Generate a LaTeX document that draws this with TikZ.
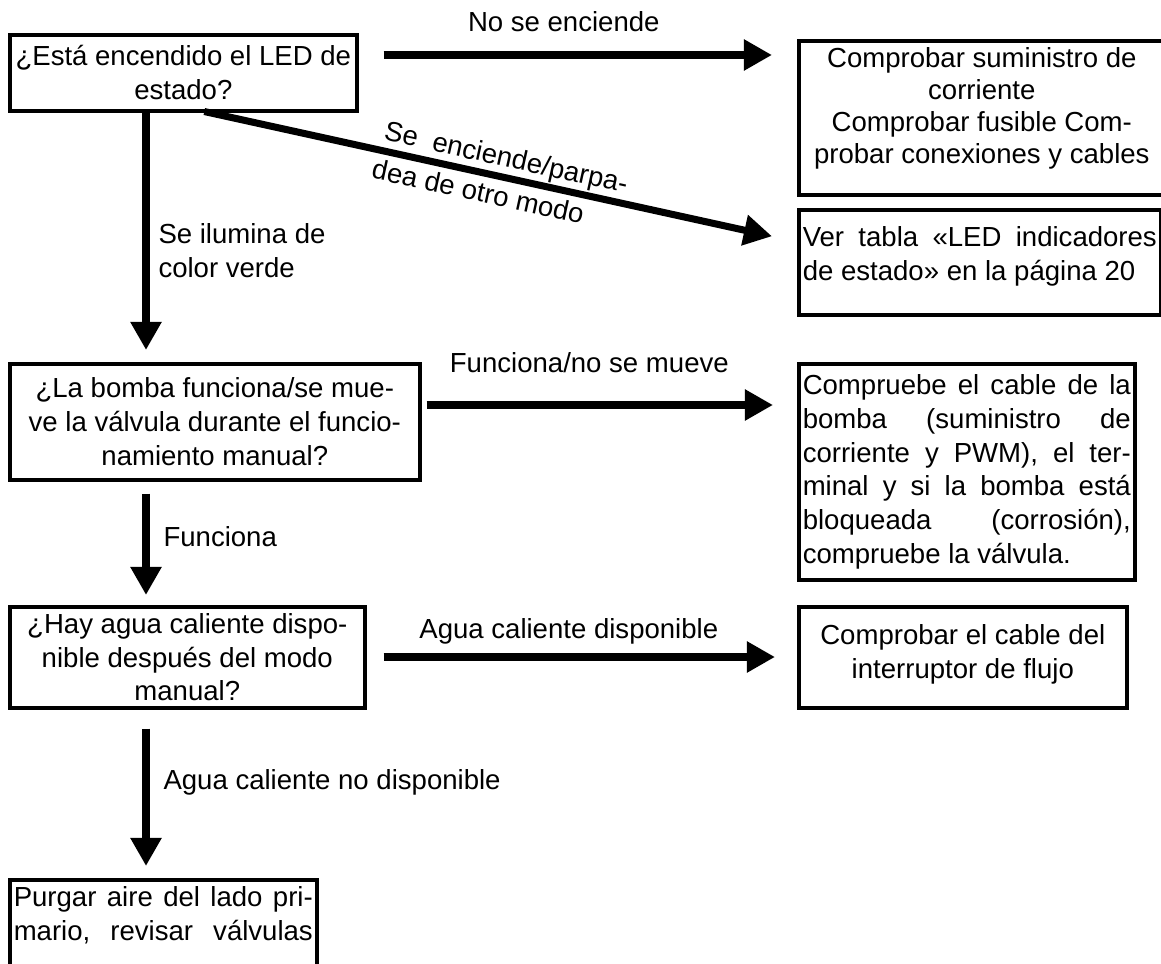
\documentclass[tikz,border=0pt]{standalone}
\usepackage{fontspec}
\setmainfont{Liberation Sans}
\usetikzlibrary{arrows.meta}
\tolerance=10000
\hbadness=10000

\tikzset{
  box/.style={draw, line width=2.5pt, anchor=north west, inner xsep=0.1cm, inner ysep=0.1cm,
    font=\fontsize{19.6pt}{24pt}\selectfont},
  flow/.style={line width=5pt, -{Triangle[length=20pt,width=21pt]}},
  lbl/.style={inner sep=0pt, font=\fontsize{19.6pt}{24pt}\selectfont}
}

\begin{document}
\begin{tikzpicture}[x=0.025cm,y=-0.025cm]
        \useasboundingbox (0,0) rectangle (1161,964);
        \clip (0,0) rectangle (1161,964);
        % questions on the left
        \node[box, align=flush center, text width=8.475cm, minimum height=1.9cm] (q1) at (8,33) {¿Está encendido el LED de\\estado?};
        \node[box, align=flush center, text width=10.05cm, minimum height=2.9cm] (q2) at (8,362) {¿La bomba funciona/se mue-\\ve la válvula durante el funcio-\\namiento manual?};
        \node[box, align=flush center, text width=8.675cm, minimum height=2.525cm] (q3) at (8,605) {¿Hay agua caliente dispo-\\nible después del modo\\manual?};
        \node[box, align=justify, text width=7.475cm, minimum height=2.75cm] (q4) at (8,878) {Purgar aire del lado pri-\linebreak mario,\hfill revisar\hfill válvulas\rule[-30pt]{0pt}{30pt}};
        % remedies on the right
        \node[box, align=flush center, text width=8.95cm, minimum height=3.85cm, font=\fontsize{19.6pt}{22.8pt}\selectfont] (r1) at (797,39) {Comprobar suministro de\\corriente\\Comprobar fusible Com-\\probar conexiones y cables\rule[-17pt]{0pt}{17pt}};
        \node[box, align=justify, text width=8.85cm, minimum height=2.625cm] (r2) at (797,208) {Ver tabla «LED indicadores\linebreak de estado» en la página 20\rule[-12pt]{0pt}{12pt}};
        \node[box, align=justify, text width=8.2cm, minimum height=5.4cm] (r3) at (797,362) {Compruebe el cable de la\linebreak bomba (suministro de\linebreak corriente y PWM), el ter-\linebreak minal y si la bomba está\linebreak bloqueada (corrosión),\linebreak compruebe la válvula.};
        \node[box, align=flush center, text width=8.0cm, minimum height=2.525cm] (r4) at (797,605) {Comprobar el cable del\\interruptor de flujo\rule[-8pt]{0pt}{8pt}};
        % connectors
        \coordinate (spine) at (146,0);
        \coordinate (h1) at (0,55);
        \coordinate (h2) at (0,405);
        \coordinate (h3) at (0,657);
        \draw[flow, shorten <=0.625cm, shorten >=0.625cm] (h1 -| q1.east) -- (h1 -| r1.west)
            node[lbl, midway, shift={(-14,-33)}] {No se enciende};
        \draw[flow] ([shift={(21,-1)}]q1.south) -- ([shift={(-25,-26)}]r2.west)
            node[lbl, pos=.305, sloped, anchor=south west, yshift=1pt] {Se\ \ enciende/parpa-}
            node[lbl, pos=.298, sloped, anchor=north west, yshift=-4pt] {dea de otro modo};
        \draw[flow, shorten >=0.3cm] (spine |- q1.south) -- (spine |- q2.north)
            node[lbl, pos=.553, anchor=west, align=left, shift={(9,0)}] {Se ilumina de\\color verde};
        \draw[flow, shorten <=0.125cm, shorten >=0.6cm] (h2 -| q2.east) -- (h2 -| r3.west)
            node[lbl, midway, shift={(-20,-42)}] {Funciona/no se mueve};
        \draw[flow, shorten <=0.3cm, shorten >=0.25cm] (spine |- q2.south) -- (spine |- q3.north)
            node[lbl, pos=.449, anchor=west, shift={(14,0)}] {Funciona};
        \draw[flow, shorten <=0.425cm, shorten >=0.55cm] (h3 -| q3.east) -- (h3 -| r4.west)
            node[lbl, midway, shift={(-13,-26)}] {Agua caliente disponible};
        \draw[flow, shorten <=0.475cm, shorten >=0.3cm] (spine |- q3.south) -- (spine |- q4.north)
            node[lbl, pos=.43, anchor=west, shift={(14,0)}] {Agua caliente no disponible};
\end{tikzpicture}
\end{document}
